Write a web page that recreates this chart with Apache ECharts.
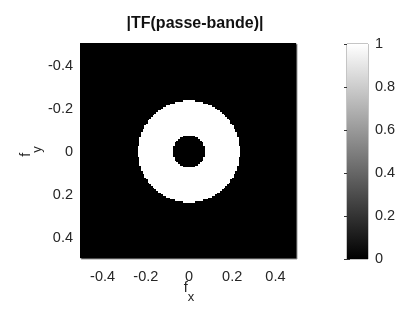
<!DOCTYPE html>
<html>
<head>
<meta charset="utf-8">
<script src="https://cdn.jsdelivr.net/npm/echarts@6/dist/echarts.min.js"></script>
<style>html,body{margin:0;padding:0;background:#fff}#c{width:409px;height:313px}</style>
</head>
<body>
<div id="c"></div>
<script>
// ---- data ----
var title = '|TF(passe-bande)|';
var gridSize = 128;                      // image is 128 x 128 cells, fx, fy in [-0.5, 0.5)
var xTicks = [-0.4, -0.2, 0, 0.2, 0.4];
var yTicks = [-0.4, -0.2, 0, 0.2, 0.4];
var colorbarTicks = [0, 0.2, 0.4, 0.6, 0.8, 1];
// white disc: row offsets (cells from centre) and half width (cells) on each row
var outerRowOffsets = [-30,-29,-28,-27,-26,-25,-24,-23,-22,-21,-20,-19,-18,-17,-16,-15,-14,-13,-12,-11,-10,-9,-8,-7,-6,-5,-4,-3,-2,-1,
                       0,1,2,3,4,5,6,7,8,9,10,11,12,13,14,15,16,17,18,19,20,21,22,23,24,25,26,27,28,29,30];
var outerHalf = [3,8,11,13,15,16,18,19,20,21,22,23,24,24,25,26,26,27,27,28,28,28,29,29,29,29,29,30,30,30,
                 30,30,30,30,29,29,29,29,29,28,28,28,27,27,26,26,25,24,24,23,22,21,20,19,18,16,15,13,11,8,3];
// black hole in the middle: row offsets and half width (cells)
var innerRowOffsets = [-9,-8,-7,-6,-5,-4,-3,-2,-1,0,1,2,3,4,5,6,7,8,9];
var innerHalf = [3,5,6,7,8,8,9,9,9,9,9,9,9,8,8,7,6,5,3];

// ---- build cells ----
var cells = [];
var half = gridSize / 2;
for (var r = -half; r < half; r++) {
  var oi = outerRowOffsets.indexOf(r);
  var ii = innerRowOffsets.indexOf(r);
  for (var c = -half; c < half; c++) {
    var a = Math.abs(c);
    var v = 0;
    if (oi >= 0 && a <= outerHalf[oi]) v = 1;
    if (ii >= 0 && a <= innerHalf[ii]) v = 0;
    cells.push([c / gridSize, r / gridSize, v]);
  }
}
var cellW = 1 / gridSize;

function grayOf(v) {
  var g = Math.round(255 * v);
  return 'rgb(' + g + ',' + g + ',' + g + ')';
}

var font = 'Liberation Sans, Arial, Helvetica, sans-serif';
var labelColor = '#262626';

var chart = echarts.init(document.getElementById('c'), null, {renderer: 'canvas'});
chart.setOption({
  animation: false,
  backgroundColor: '#fff',
  title: {
    text: title,
    left: 190, top: 11, textAlign: 'center',
    textStyle: {fontFamily: font, fontSize: 16, fontWeight: 'bold', color: '#111'}
  },
  grid: [
    {left: 81, top: 44, width: 216, height: 215, outerBoundsMode: 'none', containLabel: false,
     show: true, backgroundColor: '#000', borderColor: '#9a9a9a', borderWidth: 1},
    {left: 347, top: 44, width: 21, height: 215, outerBoundsMode: 'none', containLabel: false,
     show: true, backgroundColor: 'transparent', borderColor: '#8a8a8a', borderWidth: 1}
  ],
  xAxis: [
    {
      gridIndex: 0, type: 'value', min: -0.5, max: 0.5,
      splitLine: {show: false},
      axisLine: {show: false},
      axisTick: {show: true, inside: true, length: 3, lineStyle: {color: '#444'}, customValues: xTicks},
      axisLabel: {customValues: xTicks, margin: 10, fontFamily: font, fontSize: 14.5, color: labelColor},
      name: '{f|f}{s|x}', nameLocation: 'middle', nameGap: 12, nameMoveOverlap: false,
      nameTextStyle: {rich: {
        f: {fontFamily: font, fontSize: 14.5, color: labelColor},
        s: {fontFamily: font, fontSize: 13, color: labelColor, padding: [20, 0, 0, 0]}
      }}
    },
    {gridIndex: 1, type: 'value', min: 0, max: 1, show: false}
  ],
  yAxis: [
    {
      gridIndex: 0, type: 'value', min: -0.5, max: 0.5, inverse: true,
      splitLine: {show: false},
      axisLine: {show: false},
      axisTick: {show: true, inside: true, length: 3, lineStyle: {color: '#444'}, customValues: yTicks},
      axisLabel: {customValues: yTicks, margin: 8, fontFamily: font, fontSize: 14.5, color: labelColor,
                  padding: [4, 0, 0, 0],
                  formatter: function (v) { return String(v); }},
      name: '{f|f}{s|y}', nameLocation: 'middle', nameGap: 37, nameRotate: 90, nameMoveOverlap: false,
      nameTextStyle: {rich: {
        f: {fontFamily: font, fontSize: 14.5, color: labelColor},
        s: {fontFamily: font, fontSize: 13, color: labelColor, padding: [23, 0, 0, 0]}
      }}
    },
    {
      gridIndex: 1, type: 'value', min: 0, max: 1, interval: 0.2, position: 'right',
      splitLine: {show: false},
      axisLine: {show: false},
      axisTick: {show: true, inside: true, length: 3, lineStyle: {color: '#333'}},
      axisLabel: {margin: 7, fontFamily: font, fontSize: 14.5, color: labelColor,
                  formatter: function (v) { return String(v); }}
    },
    {
      gridIndex: 1, type: 'value', min: 0, max: 1, interval: 0.2, position: 'left',
      splitLine: {show: false},
      axisLine: {show: false},
      axisTick: {show: true, inside: true, length: 3, lineStyle: {color: '#333'}},
      axisLabel: {show: false}
    }
  ],
  series: [
    {
      type: 'custom', xAxisIndex: 0, yAxisIndex: 0, clip: true,
      data: cells,
      renderItem: function (params, api) {
        var x = api.value(0), y = api.value(1), v = api.value(2);
        var p0 = api.coord([x - cellW / 2, y - cellW / 2]);
        var p1 = api.coord([x + cellW / 2, y + cellW / 2]);
        var x0 = Math.round(Math.min(p0[0], p1[0])), x1 = Math.round(Math.max(p0[0], p1[0]));
        var y0 = Math.round(Math.min(p0[1], p1[1])), y1 = Math.round(Math.max(p0[1], p1[1]));
        return {
          type: 'rect',
          shape: {x: x0, y: y0, width: x1 - x0, height: y1 - y0},
          style: {fill: grayOf(v)}
        };
      }
    },
    {
      type: 'custom', xAxisIndex: 1, yAxisIndex: 1,
      data: [[0, 0, 1, 1]],
      renderItem: function (params, api) {
        var p0 = api.coord([api.value(0), api.value(1)]);
        var p1 = api.coord([api.value(2), api.value(3)]);
        return {
          type: 'rect',
          shape: {x: Math.min(p0[0], p1[0]), y: Math.min(p0[1], p1[1]),
                  width: Math.abs(p1[0] - p0[0]), height: Math.abs(p1[1] - p0[1])},
          style: {fill: new echarts.graphic.LinearGradient(0, 1, 0, 0, [
            {offset: 0, color: '#000'}, {offset: 1, color: '#fff'}
          ])}
        };
      }
    }
  ]
});
</script>
</body>
</html>
